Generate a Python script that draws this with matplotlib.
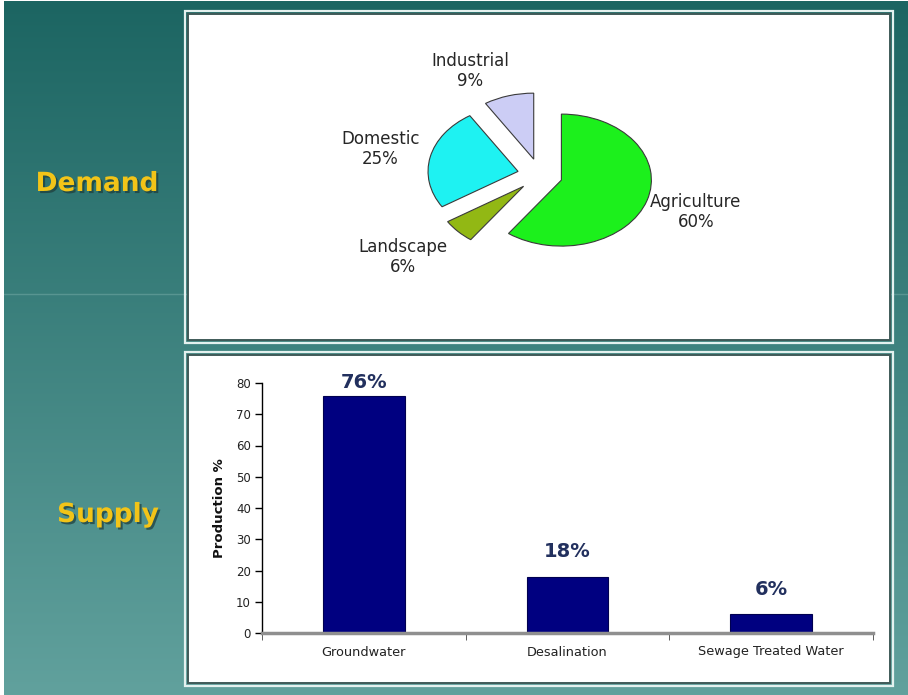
import numpy as np
import matplotlib
matplotlib.use("Agg")
import matplotlib.pyplot as plt
from matplotlib.patches import Rectangle
import matplotlib.patheffects as pe

# data
demand_labels = ["Agriculture", "Landscape", "Domestic", "Industrial"]
demand_share = [60, 6, 25, 9]
demand_colors = ["#1cf01c", "#92b814", "#1ef2f2", "#cccdf5"]

supply_sources = ["Groundwater", "Desalination", "Sewage Treated Water"]
supply_pct = [76, 18, 6]
y_ticks = [0, 10, 20, 30, 40, 50, 60, 70, 80]

W, H = 908, 695
fig = plt.figure(figsize=(W / 100, H / 100), dpi=100)
fig.patch.set_facecolor("white")

# teal slide background
bg = fig.add_axes([0.004, 0, 0.996, 0.9985], zorder=-10)
top_c = np.array([28, 101, 98]) / 255
bot_c = np.array([97, 161, 157]) / 255
t = np.linspace(0, 1, 300)[:, None]
grad = top_c[None, :] * (1 - t[..., None]) + bot_c[None, :] * t[..., None]
grad = np.repeat(grad, 2, axis=1)
bg.imshow(grad, aspect="auto", extent=[0, 1, 0, 1])
bg.axhline(1 - 293 / H, color="#7fb3ae", lw=1, alpha=0.45)
bg.set_xlim(0, 1)
bg.set_ylim(0, 1)
bg.axis("off")


def panel(x0, y0, x1, y1):
    # outer light line + inner dark line, white inside
    fx = lambda px: px / W
    fy = lambda py: 1 - py / H
    fig.add_artist(Rectangle((fx(x0), fy(y1)), fx(x1) - fx(x0), fy(y0) - fy(y1),
                             transform=fig.transFigure, facecolor="none",
                             edgecolor="#e4f1ef", lw=1.6, zorder=-5))
    fig.add_artist(Rectangle((fx(x0 + 3), fy(y1 - 3)), fx(x1 - 3) - fx(x0 + 3),
                             fy(y0 + 3) - fy(y1 - 3), transform=fig.transFigure,
                             facecolor="white", edgecolor="#3f5a58", lw=1.4, zorder=-4))


panel(185, 11, 893, 343)
panel(185, 352, 893, 686)

# side titles
shadow = [pe.withSimplePatchShadow(offset=(1.5, -1.5), shadow_rgbFace="#1d3b3a", alpha=0.7)]
fig.text(97 / W, 1 - 191 / H, "Demand", ha="center", va="baseline", fontsize=19,
         fontweight="bold", color="#f2c418", path_effects=shadow)
fig.text(108 / W, 1 - 522 / H, "Supply", ha="center", va="baseline", fontsize=19,
         fontweight="bold", color="#f2c418", path_effects=shadow)

# demand pie (exploded, slightly squashed like the original)
ax1 = fig.add_axes([290 / W, 1 - 325 / H, 500 / W, 300 / H])
ax1.set_facecolor("none")
pie_text = [f"{n}\n{v}%" for n, v in zip(demand_labels, demand_share)]
wedges, texts = ax1.pie(
    demand_share, labels=pie_text, colors=demand_colors, startangle=90,
    counterclock=False, explode=[0.25] * 4, labeldistance=1.57,
    wedgeprops=dict(edgecolor="#3a3a3a", linewidth=0.8),
    textprops=dict(ha="center", va="center", fontsize=12, color="#262626",
                   linespacing=1.12))
nudges = [(0, 0), (-0.2, 0), (0, 0), (-0.27, -0.17)]
for txt, (dx, dy) in zip(texts, nudges):
    px, py = txt.get_position()
    txt.set_position((px + dx, py + dy))
ax1.set_aspect("auto")
ax1.set_xlim(-250 / 90, 250 / 90)
ax1.set_ylim(-150 / 66, 150 / 66)
ax1.axis("off")

# supply bars
ax2 = fig.add_axes([262 / W, 1 - 633 / H, 611 / W, 250 / H])
ax2.set_facecolor("none")
xpos = np.arange(len(supply_sources))
ax2.bar(xpos, supply_pct, width=0.4, color="#000080", edgecolor="#000050", lw=0.8)
for xi, v in zip(xpos, supply_pct):
    ax2.text(xi, min(v + 5, 77), f"{v}%", ha="center", va="bottom",
             fontsize=14, fontweight="bold", color="#22305e")
ax2.set_xlim(-0.5, 2.5)
ax2.set_ylim(0, 80)
ax2.set_yticks(y_ticks)
ax2.set_xticks(xpos, supply_sources)
ax2.set_xticks([-0.5, 0.5, 1.5, 2.5], minor=True)
ax2.tick_params(axis="x", which="major", length=0, pad=9, labelsize=9.3, labelcolor="#222222")
ax2.tick_params(axis="x", which="minor", length=5, color="#444444", direction="out")
ax2.tick_params(axis="y", length=5, width=1, pad=3, labelsize=8.5, labelcolor="#222222", direction="out")
for s in ["top", "right"]:
    ax2.spines[s].set_visible(False)
ax2.spines["bottom"].set_color("#8f8f8f")
ax2.spines["bottom"].set_linewidth(2.5)
ax2.spines["left"].set_color("black")
ax2.spines["left"].set_linewidth(1)
ax2.set_ylabel("Production %", fontsize=9.5, fontweight="bold", color="#111111", labelpad=7)

fig.savefig("out.png", dpi=100)
